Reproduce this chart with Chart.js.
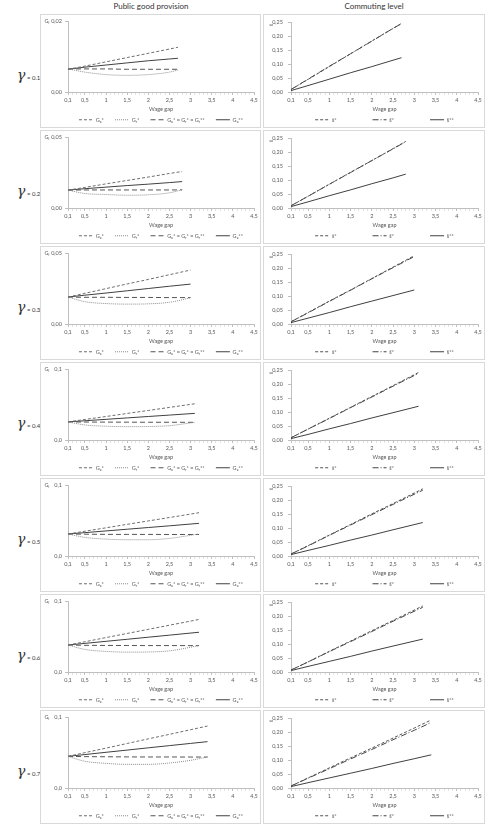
<!DOCTYPE html>
<html>
<head>
<meta charset="utf-8">
<script src="https://cdn.jsdelivr.net/npm/chart.js@4.4.1/dist/chart.umd.min.js"></script>
<style>
  body { margin: 0; background: #fff; width: 487px; height: 834px; position: relative; overflow: hidden;
         font-family: Lato, 'Liberation Sans', sans-serif; }
  .col-title { position: absolute; top: 1px; font-size: 8px; color: #333; text-align: center; width: 222px; }
  .panel { position: absolute; border: 1px solid #d9d9d9; box-sizing: border-box; }
  .panel canvas { position: absolute; left: -1px; top: -1px; }
  .gamma { position: absolute; left: 17px; color: #333; white-space: nowrap; }
  .gamma .g { font-family: 'DejaVu Serif', serif; font-style: italic; font-size: 14px; }
  .gamma .v { font-size: 6px; }
</style>
</head>
<body>
<div class="col-title" style="left:40px">Public good provision</div>
<div class="col-title" style="left:263px">Commuting level</div>
<div id="grid"></div>
<script>
// values, one inner array per gamma row
const gammaValues = ['0.1', '0.2', '0.3', '0.4', '0.5', '0.6', '0.7'];
const xTickLabels = [0.1, 0.5, 1, 1.5, 2, 2.5, 3, 3.5, 4, 4.5];
const gMax = [0.02, 0.05, 0.05, 0.1, 0.1, 0.1, 0.1];
const gDecimals = [2, 2, 2, 1, 1, 1, 1];
const sTicks = [0, 0.05, 0.1, 0.15, 0.2, 0.25];

const wageGap = [
  [0.1, 0.5, 1, 1.5, 2, 2.5, 2.7],
  [0.1, 0.5, 1, 1.5, 2, 2.5, 2.8],
  [0.1, 0.5, 1, 1.5, 2, 2.5, 3.0],
  [0.1, 0.5, 1, 1.5, 2, 2.5, 3.1],
  [0.1, 0.5, 1, 1.5, 2, 2.5, 3.2],
  [0.1, 0.5, 1, 1.5, 2, 2.5, 3.2],
  [0.1, 0.5, 1, 1.5, 2, 2.5, 3, 3.4]
];

const guStar = [
  [0.0064, 0.0073, 0.0085, 0.0097, 0.0109, 0.0121, 0.0126],
  [0.0126, 0.0145, 0.0170, 0.0194, 0.0218, 0.0243, 0.0257],
  [0.019, 0.0216, 0.0249, 0.0282, 0.0314, 0.0347, 0.038],
  [0.0255, 0.0289, 0.0331, 0.0374, 0.0416, 0.0459, 0.051],
  [0.031, 0.0349, 0.0397, 0.0446, 0.0494, 0.0542, 0.061],
  [0.038, 0.0426, 0.0485, 0.0543, 0.0601, 0.0659, 0.074],
  [0.0446, 0.0498, 0.0562, 0.0627, 0.0692, 0.0756, 0.0821, 0.0873]
];
const grStar = [
  [0.0065, 0.0056, 0.0049, 0.0047, 0.0049, 0.0056, 0.0062],
  [0.0126, 0.0102, 0.0095, 0.0090, 0.0093, 0.0107, 0.0128],
  [0.019, 0.0157, 0.0144, 0.0140, 0.0142, 0.0153, 0.0184],
  [0.0255, 0.0212, 0.0194, 0.0188, 0.0190, 0.0202, 0.0249],
  [0.031, 0.0262, 0.0238, 0.0229, 0.0229, 0.0248, 0.031],
  [0.038, 0.0318, 0.0290, 0.0280, 0.0282, 0.0298, 0.0372],
  [0.0446, 0.0376, 0.0347, 0.0333, 0.0333, 0.0352, 0.039, 0.0437]
];
const gEqual = [
  [0.0065, 0.0065, 0.0065, 0.0064, 0.0064, 0.0064, 0.0064],
  [0.0126, 0.0127, 0.0127, 0.0127, 0.0127, 0.0127, 0.0128],
  [0.019, 0.0188, 0.0188, 0.0187, 0.0187, 0.0186, 0.0186],
  [0.0255, 0.0253, 0.0252, 0.0251, 0.0250, 0.0250, 0.0249],
  [0.031, 0.0307, 0.0305, 0.0304, 0.0304, 0.0303, 0.0303],
  [0.038, 0.0376, 0.0374, 0.0373, 0.0372, 0.0372, 0.0371],
  [0.0446, 0.0442, 0.044, 0.0438, 0.0437, 0.0437, 0.0436, 0.0436]
];
const guStarStar = [
  [0.0064, 0.0070, 0.0076, 0.0082, 0.0088, 0.0093, 0.0095],
  [0.0126, 0.0136, 0.0147, 0.0158, 0.0168, 0.0179, 0.0186],
  [0.019, 0.0203, 0.0218, 0.0234, 0.0250, 0.0266, 0.0281],
  [0.0255, 0.0271, 0.0291, 0.0311, 0.0331, 0.0351, 0.0375],
  [0.031, 0.0329, 0.0353, 0.0377, 0.0401, 0.0425, 0.046],
  [0.038, 0.0403, 0.0432, 0.0461, 0.0490, 0.0519, 0.056],
  [0.0446, 0.0471, 0.0503, 0.0534, 0.0566, 0.0597, 0.0628, 0.0653]
];

const sStar = [
  [0.009, 0.045, 0.091, 0.137, 0.183, 0.228, 0.246],
  [0.008, 0.042, 0.085, 0.128, 0.170, 0.213, 0.239],
  [0.008, 0.041, 0.082, 0.122, 0.163, 0.204, 0.245],
  [0.008, 0.039, 0.078, 0.117, 0.156, 0.195, 0.242],
  [0.007, 0.037, 0.075, 0.113, 0.151, 0.188, 0.241],
  [0.007, 0.036, 0.074, 0.111, 0.148, 0.185, 0.237],
  [0.007, 0.036, 0.072, 0.108, 0.143, 0.179, 0.215, 0.244]
];
const sTildeStar = [
  [0.009, 0.046, 0.092, 0.137, 0.182, 0.228, 0.245],
  [0.008, 0.042, 0.085, 0.127, 0.170, 0.212, 0.238],
  [0.008, 0.040, 0.081, 0.121, 0.162, 0.202, 0.242],
  [0.008, 0.039, 0.077, 0.116, 0.154, 0.193, 0.239],
  [0.007, 0.036, 0.074, 0.111, 0.148, 0.185, 0.236],
  [0.007, 0.036, 0.073, 0.109, 0.145, 0.182, 0.232],
  [0.007, 0.035, 0.069, 0.104, 0.138, 0.173, 0.207, 0.235]
];
const sStarStar = [
  [0.005, 0.023, 0.046, 0.069, 0.091, 0.114, 0.123],
  [0.005, 0.022, 0.044, 0.065, 0.087, 0.108, 0.1215],
  [0.005, 0.021, 0.041, 0.062, 0.082, 0.102, 0.122],
  [0.005, 0.020, 0.040, 0.059, 0.079, 0.098, 0.121],
  [0.005, 0.020, 0.038, 0.057, 0.075, 0.094, 0.120],
  [0.005, 0.020, 0.038, 0.056, 0.075, 0.093, 0.118],
  [0.005, 0.019, 0.036, 0.053, 0.070, 0.088, 0.105, 0.119]
];

const gLabels = ['G\u1d64*', 'G\u1d63*', 'G\u1d64* = G\u1d63* = G\u1d63**', 'G\u1d64**'];
const sLabels = ['\u015d*', 's\u0303*', 's\u0303**'];

const FONT = "Lato, 'Liberation Sans', sans-serif";
const TXT = '#595959';
const AXIS = '#bfbfbf';

// small text drawn next to the y axis (G_i / rotated s)
const axisLabel = {
  id: 'axisLabel',
  afterDraw(chart, args, opts) {
    if (!opts.text) return;
    const ctx = chart.ctx;
    ctx.save();
    ctx.font = `5.5px ${FONT}`;
    ctx.fillStyle = TXT;
    ctx.textBaseline = 'middle';
    ctx.translate(opts.x, opts.y);
    if (opts.rotate) ctx.rotate(-Math.PI / 2);
    ctx.textAlign = 'center';
    ctx.fillText(opts.text, 0, 0);
    ctx.restore();
  }
};

const line = (label, xs, ys, dash, color) => ({
  label,
  data: xs.map((x, k) => ({x, y: ys[k]})),
  borderColor: color,
  borderWidth: 1,
  borderDash: dash,
  pointRadius: 0,
  fill: false,
  cubicInterpolationMode: 'monotone'
});

const makeChart = (canvas, datasets, yOpts, gap, label) => {
  return new Chart(canvas, {
    type: 'line',
    data: { datasets },
    plugins: [axisLabel],
    options: {
      responsive: false,
      animation: false,
      layout: { padding: { left: 0, right: 7, top: 7, bottom: 0 } },
      plugins: {
        tooltip: { enabled: false },
        axisLabel: label,
        legend: {
          position: 'bottom',
          fullSize: false,
          maxHeight: 14,
          labels: {
            usePointStyle: true,
            pointStyle: 'line',
            pointStyleWidth: 14,
            boxHeight: 5.5,
            padding: 3,
            color: TXT,
            font: { size: 5.5, family: FONT },
            generateLabels: chart => {
              const items = Chart.defaults.plugins.legend.labels.generateLabels(chart);
              items.forEach((it, k) => {
                const ds = chart.data.datasets[it.datasetIndex];
                it.lineDash = ds.borderDash;
                it.strokeStyle = ds.borderColor;
                it.lineWidth = ds.borderWidth;
                if (k < items.length - 1) it.text += gap;
              });
              return items;
            }
          }
        }
      },
      scales: {
        x: {
          type: 'linear',
          min: 0.1,
          max: 4.5,
          afterFit: s => { s.height = 22; },
          afterBuildTicks: s => {
            const t = [];
            for (let k = 1; k <= 45; k++) t.push({ value: k / 10 });
            s.ticks = t;
          },
          ticks: {
            autoSkip: false,
            maxRotation: 0,
            padding: 1.5,
            color: TXT,
            font: { size: 5.5, family: FONT },
            callback: v => xTickLabels.some(l => Math.abs(l - v) < 1e-9) ? String(Math.round(v * 10) / 10).replace('.', ',') : ''
          },
          grid: {
            drawOnChartArea: false,
            tickLength: 3,
            tickColor: c => (c.tick && xTickLabels.some(l => Math.abs(l - c.tick.value) < 1e-9)) ? AXIS : '#e3e3e3'
          },
          border: { color: AXIS },
          title: {
            display: true,
            text: 'Wage gap',
            color: TXT,
            font: { size: 5.5, family: FONT },
            padding: { top: 0, bottom: 1.7 }
          }
        },
        y: Object.assign({
          afterFit: s => { s.width = 28; },
          grid: { drawOnChartArea: false, tickLength: 3, tickColor: AXIS },
          border: { color: AXIS }
        }, yOpts)
      }
    }
  });
};

const grid = document.getElementById('grid');

gammaValues.forEach((gamma, i) => {
  const top = 14 + 116 * i;

  const lab = document.createElement('div');
  lab.className = 'gamma';
  lab.style.top = (top + 50) + 'px';
  lab.innerHTML = `<span class="g">\u03b3</span><span class="v"> = ${gamma}</span>`;
  grid.appendChild(lab);

  const boxes = [[40, 221], [263, 222]].map(([left, w]) => {
    const div = document.createElement('div');
    div.className = 'panel';
    div.style.left = left + 'px';
    div.style.top = top + 'px';
    div.style.width = w + 'px';
    div.style.height = '114px';
    const cv = document.createElement('canvas');
    cv.width = w;
    cv.height = 114;
    div.appendChild(cv);
    grid.appendChild(div);
    return cv;
  });

  const xs = wageGap[i];
  const dec = gDecimals[i];
  makeChart(boxes[0], [
    line(gLabels[0], xs, guStar[i], [3, 2], '#6e6e6e'),
    line(gLabels[1], xs, grStar[i], [1, 1], '#8c8c8c'),
    line(gLabels[2], xs, gEqual[i], [5, 3], '#555'),
    line(gLabels[3], xs, guStarStar[i], [], '#404040')
  ], {
    min: 0,
    max: gMax[i],
    afterBuildTicks: s => { s.ticks = [{ value: 0 }, { value: gMax[i] }]; },
    ticks: {
      padding: 3,
      color: TXT,
      font: { size: 5.5, family: FONT },
      callback: v => v.toFixed(dec).replace('.', ',')
    }
  }, '\u2003\u2003', { text: 'G\u1d62', x: 7, y: 7 });

  makeChart(boxes[1], [
    line(sLabels[0], xs, sStar[i], [3, 2], '#555'),
    line(sLabels[1], xs, sTildeStar[i], [6, 2, 1, 2], '#444'),
    line(sLabels[2], xs, sStarStar[i], [], '#404040')
  ], {
    min: 0,
    max: 0.25,
    afterBuildTicks: s => { s.ticks = sTicks.map(v => ({ value: v })); },
    ticks: {
      padding: 5,
      color: TXT,
      font: { size: 5.5, family: FONT },
      callback: v => v.toFixed(2).replace('.', ',')
    }
  }, '\u2003'.repeat(8), { text: 's\u0303', x: 8, y: 11, rotate: true });
});
</script>
</body>
</html>
